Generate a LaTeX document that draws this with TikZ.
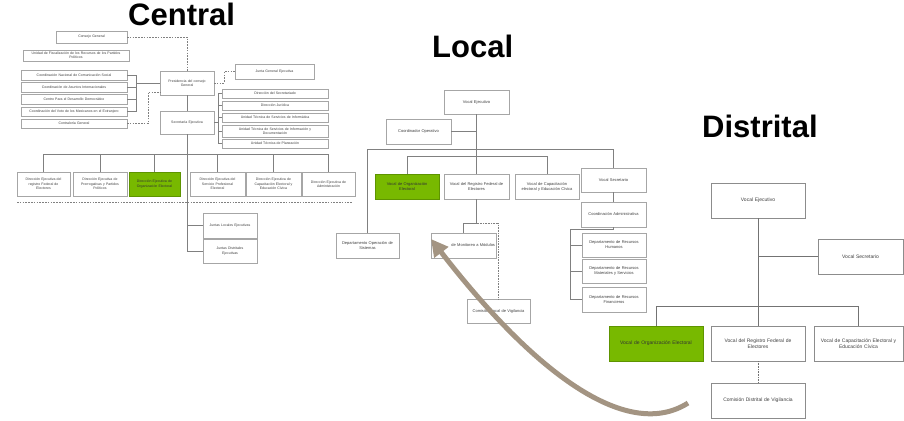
\documentclass[tikz,border=0pt]{standalone}
\usepackage{fontspec}
\setmainfont{Liberation Sans}
\usetikzlibrary{arrows.meta}

\definecolor{boxline}{HTML}{A6A6A6}
\definecolor{linkgray}{HTML}{808080}
\definecolor{txtgray}{HTML}{404040}
\definecolor{orggreen}{HTML}{78B900}
\definecolor{orggreenline}{HTML}{5E9400}
\definecolor{taupe}{HTML}{A39482}

% box given by its corners: [options]{name}{x1}{y1}{x2}{y2}{text}
\newcommand{\orgbox}[7][]{%
  \pgfmathsetmacro\obw{#5-#3}%
  \pgfmathsetmacro\obh{#6-#4}%
  \pgfmathsetmacro\obt{#5-#3-2}%
  \node[obox,#1,minimum width=\obw pt,minimum height=\obh pt,text width=\obt pt]
    (#2) at ({(#3+#5)/2},{(#4+#6)/2}) {#7};}

\tikzset{
  obox/.style={draw=boxline, line width=0.6pt, fill=white, align=center,
    inner sep=0pt, outer sep=0pt, text=txtgray},
  hl/.style={fill=orggreen, draw=orggreenline, text=black!80},
  cen/.style={font=\fontsize{3.5}{4.3}\selectfont},
  loc/.style={font=\fontsize{4}{5}\selectfont},
  dis/.style={font=\fontsize{5}{6.2}\selectfont, draw=black!45},
  link/.style={draw=linkgray, line width=0.7pt},
  dlink/.style={draw=linkgray, line width=0.6pt, dash pattern=on 1.6pt off 1.2pt},
  olink/.style={draw=linkgray, line width=0.6pt, densely dotted},
  title/.style={font=\fontsize{31}{31}\selectfont\bfseries, anchor=base west,
    inner sep=0pt},
}

\begin{document}
\begin{tikzpicture}[x=1pt,y=-1pt]
\useasboundingbox[fill=white] (0,0) rectangle (904,420);

% ---------------- titles
\node[title] (tcen) at (128,26) {Central};
\node[title] (tloc) at (432,57) {Local};
\node[title] (tdis) at (702,137) {Distrital};

% ---------------- central structure
\orgbox[cen]{cg}{56}{31}{127}{43}{Consejo General}
\orgbox[cen]{ufis}{23}{50}{129}{61}{Unidad de Fiscalización de los Recursos de los Partidos\\Políticos}
\orgbox[cen]{cn1}{21}{70}{127}{80}{Coordinación Nacional de Comunicación Social}
\orgbox[cen]{cn2}{21}{82}{127}{92}{Coordinación de Asuntos Internacionales}
\orgbox[cen]{cn3}{21}{94}{127}{104}{Centro Para el Desarrollo Democrático}
\orgbox[cen]{cn4}{21}{107}{127}{116}{Coordinación del Voto de los Mexicanos en el Extranjero}
\orgbox[cen]{cont}{21}{119}{127}{128}{Contraloría General}
\orgbox[cen]{pres}{160}{71}{214}{95}{Presidencia del consejo\\General}
\orgbox[cen]{jge}{235}{64}{314}{79}{Junta General Ejecutiva}
\orgbox[cen]{sec}{160}{111}{214}{134}{Secretaría Ejecutiva}
\orgbox[cen]{u1}{222}{89}{328}{98}{Dirección del Secretariado}
\orgbox[cen]{u2}{222}{101}{328}{110}{Dirección Jurídica}
\orgbox[cen]{u3}{222}{113}{328}{122}{Unidad Técnica de Servicios de Informática}
\orgbox[cen]{u4}{222}{125}{328}{137}{Unidad Técnica de Servicios de Información y\\Documentación}
\orgbox[cen]{u5}{222}{139}{328}{148}{Unidad Técnica de Planeación}
\orgbox[cen]{d1}{17}{172}{70}{196}{Dirección Ejecutiva del\\registro Federal de\\Electores}
\orgbox[cen]{d2}{73}{172}{127}{196}{Dirección Ejecutiva de\\Prerrogativas y Partidos\\Políticos}
\orgbox[cen,hl]{d3}{129}{172}{180}{196}{Dirección Ejecutiva de\\Organización Electoral}
\orgbox[cen]{d4}{190}{172}{245}{196}{Dirección Ejecutiva del\\Servicio Profesional\\Electoral}
\orgbox[cen]{d5}{246}{172}{301}{196}{Dirección Ejecutiva de\\Capacitación Electoral y\\Educación Cívica}
\orgbox[cen]{d6}{302}{172}{355}{196}{Dirección Ejecutiva de\\Administración}
\orgbox[cen]{jl}{203}{213}{257}{238}{Juntas Locales Ejecutivas}
\orgbox[cen]{jd}{203}{239}{257}{263}{Juntas Distritales\\Ejecutivas}

% advisory bodies joined to the presidency
\coordinate (cbr) at (136,83);
\foreach \n in {cn1,cn2,cn3,cn4} \draw[link] (\n.east) -- (\n.east -| cbr);
\draw[link] (cn1.east -| cbr) -- (cn4.east -| cbr);
\draw[link] (cbr) -- (cbr -| pres.west);
\coordinate (cdash) at (148,92);
\draw[dlink] (cont.east) -| (cdash) -- (cdash -| pres.west);
\draw[dlink] (cg.east) -| (pres.north);
\draw[dlink] (pres.east) -- ++(10,0) |- (jge.west);
\draw[link] (pres.south) -- (sec.north);

% technical units of the executive secretariat
\coordinate (sbr) at (218,0);
\draw[link] (sec.east) -- (sec.east -| sbr);
\draw[link] (u1.west -| sbr) -- (u5.west -| sbr);
\foreach \n in {u1,u2,u3,u4,u5} \draw[link] (\n.west -| sbr) -- (\n.west);

% executive directions
\coordinate (bus) at (0,154);
\draw[link] (d1.north) -- (d1.north |- bus) -- (d6.north |- bus) -- (d6.north);
\foreach \n in {d2,d3,d4,d5} \draw[link] (\n.north |- bus) -- (\n.north);
\draw[link] (sec.south) |- (jd.west);
\draw[link] (jl.west -| sec.south) -- (jl.west);
\coordinate (sepl) at (17,202);
\coordinate (sepr) at (352,202);
\draw[dlink] (sepl) -- (sepr);

% ---------------- local structure
\orgbox[loc]{lve}{444}{90}{509}{114}{Vocal Ejecutivo}
\orgbox[loc]{lco}{386}{119}{451}{144}{Coordinador Operativo}
\orgbox[loc,hl]{lvo}{375}{174}{439}{199}{Vocal de Organización\\Electoral}
\orgbox[loc]{lvr}{444}{174}{509}{199}{Vocal del Registro Federal de\\Electores}
\orgbox[loc]{lvc}{515}{174}{579}{199}{Vocal de Capacitación\\electoral y Educación Cívica}
\orgbox[loc]{lvs}{581}{168}{646}{192}{Vocal Secretario}
\orgbox[loc]{lca}{581}{202}{646}{227}{Coordinación Administrativa}
\orgbox[loc]{lrh}{582}{233}{646}{257}{Departamento de Recursos\\Humanos}
\orgbox[loc]{lrm}{582}{259}{646}{283}{Departamento de Recursos\\Materiales y Servicios}
\orgbox[loc]{lrf}{582}{287}{646}{312}{Departamento de Recursos\\Financieros}
\orgbox[loc]{ldos}{336}{233}{399}{258}{Departamento Operación de\\Sistemas}
\orgbox[loc,align=right]{lmm}{431}{233}{496}{258}{de Monitoreo a Módulos}
\orgbox[loc]{lcv}{467}{299}{530}{323}{Comisión Local de Vigilancia}

\draw[link] (lve.south) -- (lvr.north);
\draw[link] (lco.east) -- (lco.east -| lve.south);
\coordinate (lout) at (0,149);
\draw[link] (ldos.north) -- (ldos.north |- lout) -- (lvs.north |- lout) -- (lvs.north);
\coordinate (lin) at (0,156);
\draw[link] (lvo.north) -- (lvo.north |- lin) -- (lvc.north |- lin) -- (lvc.north);
\draw[link] (lvs.south) -- (lca.north);
\coordinate (lbr) at (570,229);
\draw[link] (lca.south) -- (lca.south |- lbr) -- (lbr) |- (lrf.west);
\draw[link] (lrh.west -| lbr) -- (lrh.west);
\draw[link] (lrm.west -| lbr) -- (lrm.west);
\coordinate (lsp) at (0,223);
\draw[link] (lvr.south) -- (lvr.south |- lsp) -| (lmm.north);
\draw[olink] (lvr.south |- lsp) -| (lcv.north);

% ---------------- district structure
\orgbox[dis]{dve}{711}{183}{805}{218}{Vocal Ejecutivo}
\orgbox[dis]{dvs}{818}{239}{903}{274}{Vocal Secretario}
\orgbox[dis,hl]{dvo}{609}{326}{703}{361}{Vocal de Organización Electoral}
\orgbox[dis]{dvr}{711}{326}{805}{361}{Vocal del Registro Federal de\\Electores}
\orgbox[dis]{dvc}{814}{326}{903}{361}{Vocal de Capacitación Electoral y\\Educación Cívica}
\orgbox[dis]{dcv}{711}{383}{805}{418}{Comisión Distrital de Vigilancia}

\draw[link, draw=black!55, line width=0.9pt] (dve.south) -- (dvr.north);
\draw[link, draw=black!55, line width=0.9pt] (dvs.west) -- (dvs.west -| dve.south);
\coordinate (dbus) at (0,306);
\draw[link, draw=black!55, line width=0.9pt] (dvo.north) -- (dvo.north |- dbus) -- (dvc.north |- dbus) -- (dvc.north);
\draw[olink, draw=black!55, line width=0.8pt] (dvr.south) -- (dcv.north);

% ---------------- curved arrow from the district level up to the local level
\coordinate (arrs) at (688,403);
\coordinate (arre) at (431,239);
\draw[taupe, line width=5pt, -{Triangle[length=17pt,width=17pt]}]
  (arrs) .. controls (630,440) and (540,380) .. (arre);
\end{tikzpicture}
\end{document}
